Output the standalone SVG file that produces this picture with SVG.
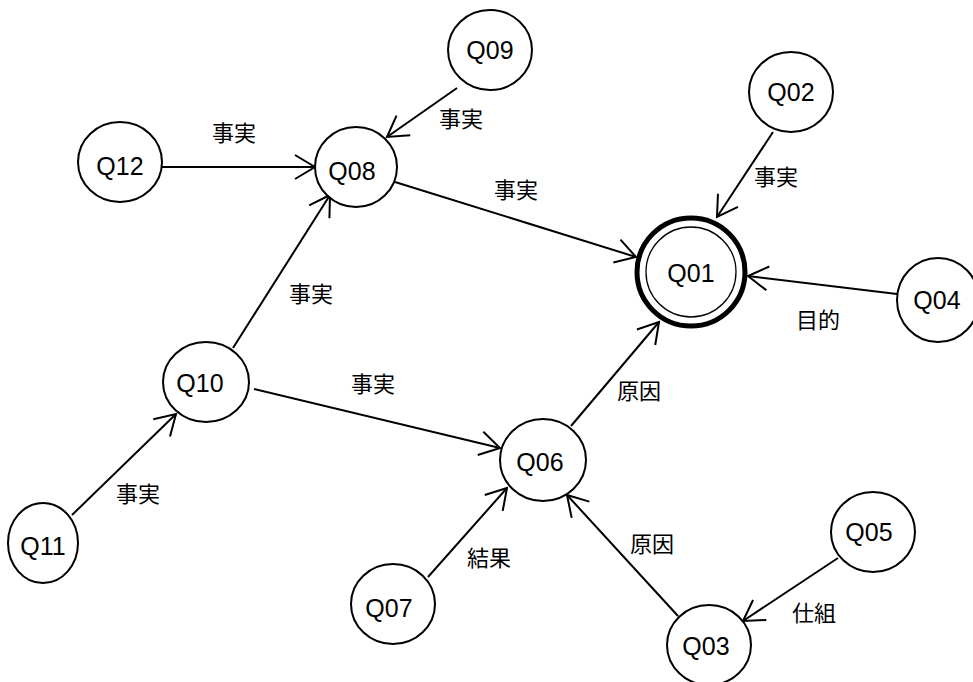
<svg xmlns="http://www.w3.org/2000/svg" width="973" height="682" viewBox="0 0 973 682">
<style>
.n{fill:#fff;stroke:#000;stroke-width:2}
.q{font-family:"Liberation Sans",Arial,sans-serif;font-size:25px;text-anchor:middle;fill:#000}
.l{font-family:"Noto Sans CJK JP","Noto Sans CJK SC",sans-serif;font-size:22px;text-anchor:middle;fill:#000}
.e{stroke:#000;stroke-width:2;fill:none;marker-end:url(#a)}
</style>
<defs>
<marker id="a" markerUnits="userSpaceOnUse" markerWidth="30" markerHeight="30" refX="0" refY="0" viewBox="-22 -15 24 30" orient="auto" overflow="visible">
<path d="M-20,-12 L0,0 L-20,12" fill="none" stroke="#000" stroke-width="2"/>
</marker>
</defs>
<rect width="973" height="682" fill="#fff"/>
<g id="edges">
<line class="e" x1="162" y1="167" x2="315" y2="167"/>
<line class="e" x1="457" y1="88" x2="387" y2="137"/>
<line class="e" x1="233" y1="348" x2="330" y2="195"/>
<line class="e" x1="395" y1="182" x2="636" y2="257"/>
<line class="e" x1="773" y1="132" x2="717" y2="217"/>
<line class="e" x1="897" y1="294" x2="748" y2="276"/>
<line class="e" x1="571" y1="426" x2="659" y2="322"/>
<line class="e" x1="72" y1="515" x2="176" y2="414"/>
<line class="e" x1="254" y1="389" x2="500" y2="448"/>
<line class="e" x1="428" y1="577" x2="507" y2="488"/>
<line class="e" x1="678" y1="616" x2="567" y2="495"/>
<line class="e" x1="838" y1="558" x2="743" y2="621"/>
</g>
<g id="labels">
<text class="l" x="234" y="141">事実</text>
<text class="l" x="461" y="127">事実</text>
<text class="l" x="311" y="302">事実</text>
<text class="l" x="516" y="198">事実</text>
<text class="l" x="776" y="185">事実</text>
<text class="l" x="818" y="328">目的</text>
<text class="l" x="373" y="392">事実</text>
<text class="l" x="138" y="502">事実</text>
<text class="l" x="489" y="566">結果</text>
<text class="l" x="639" y="399">原因</text>
<text class="l" x="652" y="552">原因</text>
<text class="l" x="814" y="621">仕組</text>
</g>
<g id="Q09"><ellipse class="n" cx="490" cy="50" rx="42" ry="40"/><text class="q" x="490" y="59">Q09</text></g>
<g id="Q02"><ellipse class="n" cx="791" cy="92" rx="42" ry="40"/><text class="q" x="791" y="101">Q02</text></g>
<g id="Q12"><ellipse class="n" cx="120" cy="162" rx="42" ry="40"/><text class="q" x="120" y="175">Q12</text></g>
<g id="Q08"><ellipse class="n" cx="356" cy="167" rx="41" ry="40"/><text class="q" x="352" y="180">Q08</text></g>
<g id="Q01"><circle cx="691" cy="272" r="54" fill="#fff" stroke="#000" stroke-width="5"/><circle cx="691" cy="272" r="45" fill="none" stroke="#000" stroke-width="1.3"/><text class="q" x="691" y="282">Q01</text></g>
<g id="Q04"><ellipse class="n" cx="938" cy="300" rx="41" ry="42"/><text class="q" x="937" y="309">Q04</text></g>
<g id="Q10"><ellipse class="n" cx="206" cy="382" rx="43" ry="40"/><text class="q" x="200" y="392">Q10</text></g>
<g id="Q06"><ellipse class="n" cx="543" cy="460" rx="43" ry="41"/><text class="q" x="540" y="471">Q06</text></g>
<g id="Q11"><ellipse class="n" cx="43" cy="543" rx="35" ry="40"/><text class="q" x="43" y="555">Q11</text></g>
<g id="Q07"><ellipse class="n" cx="393" cy="604" rx="42" ry="40"/><text class="q" x="389" y="617">Q07</text></g>
<g id="Q05"><ellipse class="n" cx="873" cy="532" rx="42" ry="40"/><text class="q" x="869" y="541">Q05</text></g>
<g id="Q03"><ellipse class="n" cx="709" cy="645" rx="42" ry="40"/><text class="q" x="706" y="655">Q03</text></g>
</svg>
